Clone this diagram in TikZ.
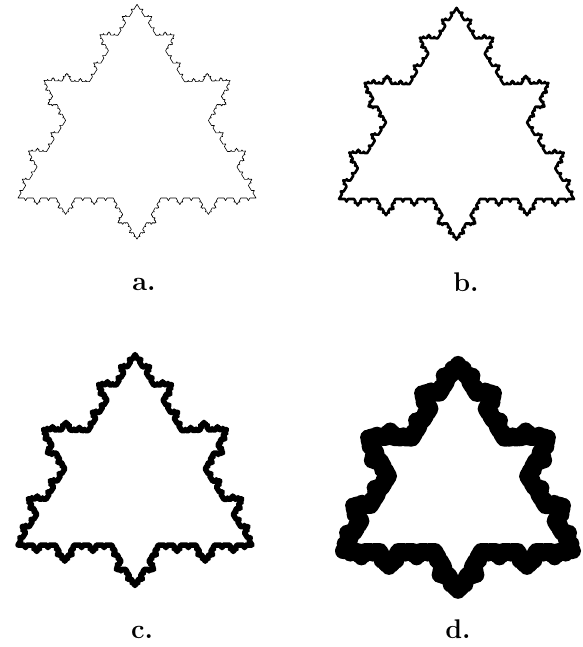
\documentclass[tikz,border=0pt]{standalone}
\usepackage{fontspec}
\usepackage{amsmath, amssymb}
\usepackage{tikz}
\usetikzlibrary{decorations,positioning}

% generator: 0.4 - bump on 0.2 - 0.4
\pgfdeclaredecoration{starkoch}{go}{
  \state{go}[width=\pgfdecoratedinputsegmentlength]{
    \pgfpathlineto{\pgfpoint{0.4*\pgfdecoratedinputsegmentlength}{0pt}}
    \pgfpathlineto{\pgfpoint{0.5*\pgfdecoratedinputsegmentlength}{-0.1732*\pgfdecoratedinputsegmentlength}}
    \pgfpathlineto{\pgfpoint{0.6*\pgfdecoratedinputsegmentlength}{0pt}}
    \pgfpathlineto{\pgfpoint{\pgfdecoratedinputsegmentlength}{0pt}}
  }
}

\begin{document}
\begin{tikzpicture}[x=1pt,y=-1pt,
  flake/.style={decoration=starkoch, line join=round, line cap=round},
  lab/.style={font=\fontsize{27}{32}\selectfont\bfseries, anchor=base}]
\useasboundingbox (0,0) rectangle (582,647);
% four copies, thicker each time
\foreach \x/\y/\s/\w in {18/198/238/0.6, 339/199/235/2.6, 18/545/234/5.5, 343/551/230/16}
  \draw[flake, line width=\w pt, shift={(\x,\y)}, yscale=0.94]
    decorate{decorate{decorate{decorate{(0,0) -- (\s,0) -- (\s/2,-0.866*\s) -- (0,0)}}}};
\node[lab] (la) at (144,290) {a.};
\node[lab] (lb) at (466,291) {b.};
\node[lab] (lc) at (142,638) {c.};
\node[lab] (ld) at (458,638) {d.};
\end{tikzpicture}
\end{document}
